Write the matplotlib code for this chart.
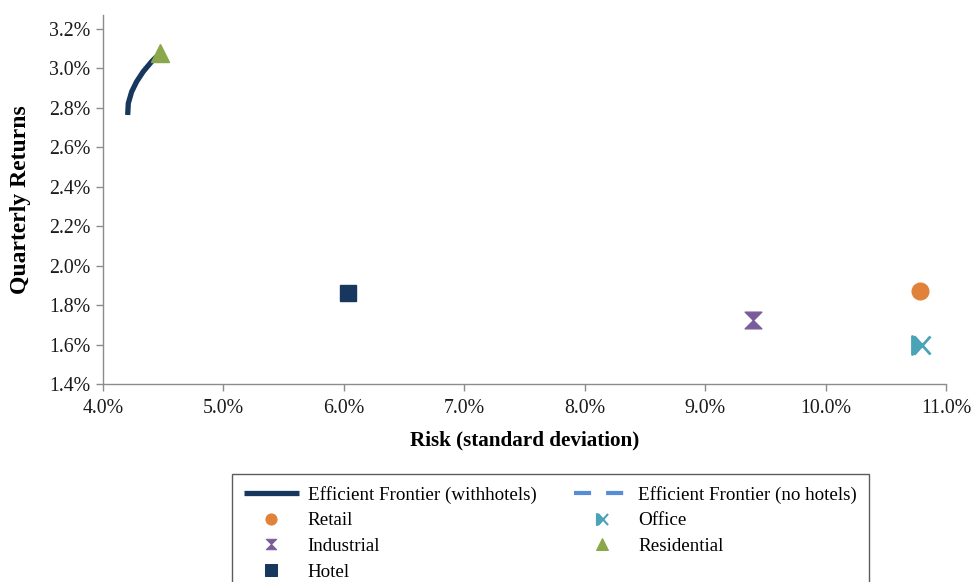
import matplotlib
matplotlib.use("Agg")
import matplotlib.pyplot as plt
from matplotlib.path import Path
from matplotlib.lines import Line2D
from matplotlib.ticker import FuncFormatter

plt.rcParams['font.family'] = ['Liberation Serif', 'DejaVu Serif']

# Efficient frontier including hotels (risk %, return %)
frontier_risk = [4.205, 4.210, 4.238, 4.279, 4.334, 4.404, 4.445]
frontier_ret = [2.764, 2.823, 2.882, 2.933, 2.984, 3.035, 3.060]

# Efficient frontier without hotels
nohotel_risk = [4.448, 4.46, 4.47]
nohotel_ret = [3.030, 3.055, 3.080]

# Individual property sectors
sectors = ["Retail", "Office", "Industrial", "Residential", "Hotel"]
sector_risk = [10.78, 10.79, 9.40, 4.47, 6.035]
sector_ret = [1.870, 1.598, 1.725, 3.080, 1.860]

x_ticks = [4.0, 5.0, 6.0, 7.0, 8.0, 9.0, 10.0, 11.0]
y_ticks = [1.4, 1.6, 1.8, 2.0, 2.2, 2.4, 2.6, 2.8, 3.0, 3.2]

navy = "#17375E"
light_blue = "#558ED5"
orange = "#E0823A"
teal = "#4BA3B8"
purple = "#7B5C9B"
green = "#8AA84B"

hourglass = Path([(-1, 1), (1, 1), (0, 0), (1, -1), (-1, -1), (0, 0), (-1, 1)],
                 [Path.MOVETO, Path.LINETO, Path.LINETO, Path.LINETO,
                  Path.LINETO, Path.LINETO, Path.CLOSEPOLY])
# office glyph: a filled wedge on the left plus a diagonal cross
office_glyph = Path([(-1, 1), (0, 0), (-1, -1), (-1, 1),
                     (-0.8, 1), (1, -1), (-0.8, -1), (1, 1)],
                    [Path.MOVETO, Path.LINETO, Path.LINETO, Path.CLOSEPOLY,
                     Path.MOVETO, Path.LINETO, Path.MOVETO, Path.LINETO])

styles = {
    "Retail": dict(marker="o", color=orange, ms=12),
    "Office": dict(marker=office_glyph, color=teal, ms=13, mew=2.0),
    "Industrial": dict(marker=hourglass, color=purple, ms=12),
    "Residential": dict(marker="^", color=green, ms=13),
    "Hotel": dict(marker="s", color=navy, ms=12),
}
legend_ms = {"Retail": 8, "Office": 8, "Industrial": 7.5, "Residential": 8, "Hotel": 8}

fig = plt.figure(figsize=(9.72, 5.82), dpi=100)
ax = fig.add_axes([103 / 972, 1 - 384 / 582, (946 - 103) / 972, (384 - 15) / 582])

ax.plot(frontier_risk, frontier_ret, color=navy, lw=3.8, solid_capstyle="butt", zorder=3)
ax.plot(nohotel_risk, nohotel_ret, color=light_blue, lw=3.0, dashes=(4.1, 3.6),
        solid_capstyle="butt", zorder=3.5)

for name, xr, yr in zip(sectors, sector_risk, sector_ret):
    st = styles[name]
    ax.plot([xr], [yr], linestyle="none", marker=st["marker"], color=st["color"],
            markersize=st["ms"], markeredgewidth=st.get("mew", 1.0), zorder=4)

ax.set_xlim(4.0, 11.0)
ax.set_ylim(1.4, 3.271)
ax.set_xticks(x_ticks)
ax.set_yticks(y_ticks)
ax.xaxis.set_major_formatter(FuncFormatter(lambda v, p: f"{v:.1f}%"))
ax.yaxis.set_major_formatter(FuncFormatter(lambda v, p: f"{v:.1f}%"))

for side in ("top", "right"):
    ax.spines[side].set_visible(False)
for side in ("left", "bottom"):
    ax.spines[side].set_color("#8c8c8c")
    ax.spines[side].set_linewidth(1.0)
ax.tick_params(axis="both", direction="out", length=5, width=1.0, color="#8c8c8c",
               labelsize=14.3, labelcolor="#1a1a1a")
ax.tick_params(axis="x", pad=6)
ax.tick_params(axis="y", pad=4)

ax.set_xlabel("Risk (standard deviation)", fontsize=15.2, fontweight="bold", labelpad=9)
ax.set_ylabel("Quarterly Returns", fontsize=17, fontweight="bold", labelpad=13)

line_handles = {
    "Efficient Frontier (withhotels)": Line2D([], [], color=navy, lw=3.8, solid_capstyle="butt"),
    "Efficient Frontier (no hotels)": Line2D([], [], color=light_blue, lw=3.0, dashes=(4.1, 3.6)),
}
marker_handles = {}
for name in sectors:
    st = styles[name]
    marker_handles[name] = Line2D([], [], linestyle="none", marker=st["marker"], color=st["color"],
                                  markersize=legend_ms[name],
                                  markeredgewidth=st.get("mew", 1.0) * 0.75)

# entries laid out row by row across two columns
left_col = ["Efficient Frontier (withhotels)", "Retail", "Industrial", "Hotel"]
right_col = ["Efficient Frontier (no hotels)", "Office", "Residential"]
all_handles = {**line_handles, **marker_handles}
order = left_col + right_col
leg = fig.legend([all_handles[k] for k in order], order, ncol=2, loc="upper left",
                 bbox_to_anchor=(232 / 972, 1 - 474 / 582), fontsize=13.7,
                 frameon=True, fancybox=False, borderpad=0.62, handlelength=2.9,
                 handletextpad=0.45, columnspacing=2.0, labelspacing=0.44,
                 borderaxespad=0.0)
leg.get_frame().set_edgecolor("#333333")
leg.get_frame().set_linewidth(1.0)

fig.savefig("out.png", dpi=100)
